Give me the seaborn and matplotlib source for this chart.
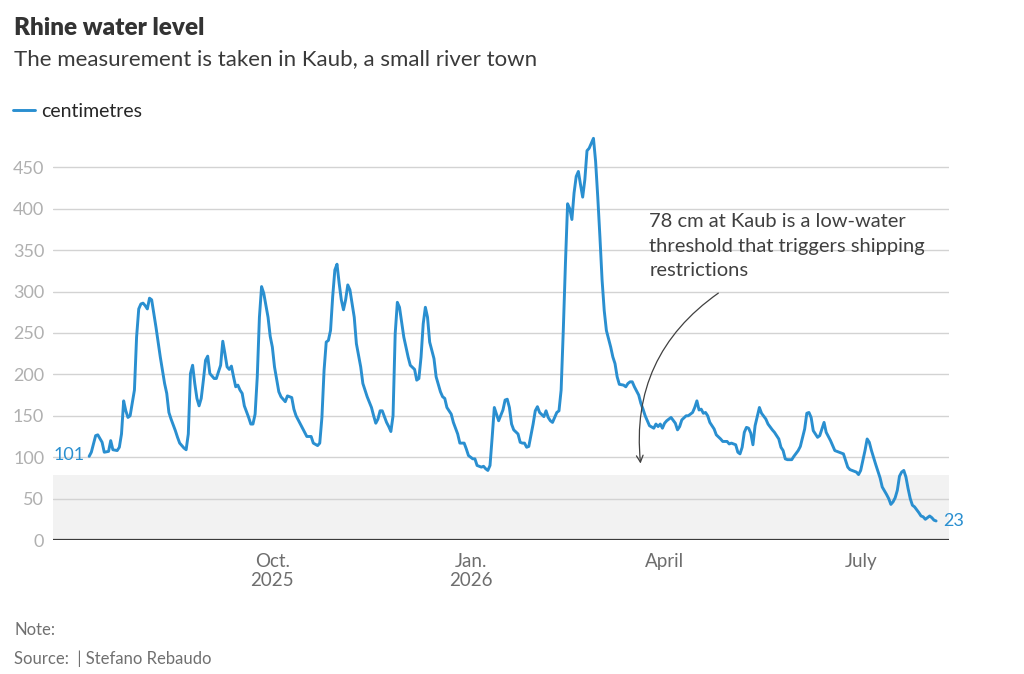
import pandas as pd
import matplotlib.pyplot as plt
import seaborn as sns

# daily readings at Kaub (cm)
dates = [
    "2025-07-08", "2025-07-09", "2025-07-11", "2025-07-12", "2025-07-14", "2025-07-15", "2025-07-17",
    "2025-07-18", "2025-07-19", "2025-07-21", "2025-07-22", "2025-07-23", "2025-07-24", "2025-07-25",
    "2025-07-26", "2025-07-27", "2025-07-29", "2025-07-30", "2025-07-31", "2025-08-01", "2025-08-02",
    "2025-08-03", "2025-08-04", "2025-08-05", "2025-08-06", "2025-08-08", "2025-08-10", "2025-08-12",
    "2025-08-13", "2025-08-14", "2025-08-15", "2025-08-17", "2025-08-18", "2025-08-19", "2025-08-21",
    "2025-08-22", "2025-08-23", "2025-08-24", "2025-08-25", "2025-08-26", "2025-08-27", "2025-08-28",
    "2025-08-29", "2025-08-30", "2025-08-31", "2025-09-01", "2025-09-02", "2025-09-04", "2025-09-05",
    "2025-09-07", "2025-09-08", "2025-09-09", "2025-09-10", "2025-09-11", "2025-09-12", "2025-09-13",
    "2025-09-14", "2025-09-15", "2025-09-16", "2025-09-17", "2025-09-18", "2025-09-20", "2025-09-21",
    "2025-09-22", "2025-09-23", "2025-09-24", "2025-09-25", "2025-09-26", "2025-09-27", "2025-09-29",
    "2025-09-30", "2025-10-01", "2025-10-02", "2025-10-04", "2025-10-05", "2025-10-07", "2025-10-08",
    "2025-10-10", "2025-10-11", "2025-10-12", "2025-10-14", "2025-10-16", "2025-10-17", "2025-10-19",
    "2025-10-20", "2025-10-22", "2025-10-23", "2025-10-24", "2025-10-25", "2025-10-26", "2025-10-27",
    "2025-10-28", "2025-10-29", "2025-10-30", "2025-10-31", "2025-11-01", "2025-11-02", "2025-11-03",
    "2025-11-04", "2025-11-05", "2025-11-06", "2025-11-08", "2025-11-09", "2025-11-11", "2025-11-12",
    "2025-11-14", "2025-11-16", "2025-11-17", "2025-11-18", "2025-11-19", "2025-11-20", "2025-11-21",
    "2025-11-23", "2025-11-24", "2025-11-25", "2025-11-26", "2025-11-27", "2025-11-28", "2025-11-29",
    "2025-12-01", "2025-12-02", "2025-12-03", "2025-12-04", "2025-12-06", "2025-12-07", "2025-12-08",
    "2025-12-09", "2025-12-10", "2025-12-11", "2025-12-12", "2025-12-13", "2025-12-15", "2025-12-16",
    "2025-12-18", "2025-12-19", "2025-12-20", "2025-12-21", "2025-12-23", "2025-12-24", "2025-12-26",
    "2025-12-27", "2025-12-29", "2025-12-30", "2025-12-31", "2026-01-02", "2026-01-03", "2026-01-04",
    "2026-01-06", "2026-01-07", "2026-01-08", "2026-01-09", "2026-01-10", "2026-01-11", "2026-01-12",
    "2026-01-13", "2026-01-14", "2026-01-16", "2026-01-17", "2026-01-18", "2026-01-19", "2026-01-20",
    "2026-01-21", "2026-01-23", "2026-01-24", "2026-01-25", "2026-01-26", "2026-01-27", "2026-01-28",
    "2026-01-30", "2026-01-31", "2026-02-01", "2026-02-02", "2026-02-04", "2026-02-05", "2026-02-06",
    "2026-02-07", "2026-02-08", "2026-02-09", "2026-02-10", "2026-02-11", "2026-02-12", "2026-02-13",
    "2026-02-14", "2026-02-15", "2026-02-16", "2026-02-17", "2026-02-18", "2026-02-19", "2026-02-20",
    "2026-02-21", "2026-02-22", "2026-02-23", "2026-02-24", "2026-02-25", "2026-02-26", "2026-02-27",
    "2026-02-28", "2026-03-01", "2026-03-02", "2026-03-03", "2026-03-04", "2026-03-05", "2026-03-07",
    "2026-03-08", "2026-03-09", "2026-03-10", "2026-03-11", "2026-03-13", "2026-03-14", "2026-03-15",
    "2026-03-16", "2026-03-17", "2026-03-18", "2026-03-20", "2026-03-21", "2026-03-22", "2026-03-23",
    "2026-03-24", "2026-03-25", "2026-03-27", "2026-03-28", "2026-03-29", "2026-03-30", "2026-03-31",
    "2026-04-01", "2026-04-02", "2026-04-04", "2026-04-06", "2026-04-07", "2026-04-08", "2026-04-09",
    "2026-04-11", "2026-04-12", "2026-04-14", "2026-04-15", "2026-04-16", "2026-04-17", "2026-04-18",
    "2026-04-19", "2026-04-20", "2026-04-21", "2026-04-22", "2026-04-24", "2026-04-25", "2026-04-27",
    "2026-04-28", "2026-04-30", "2026-05-01", "2026-05-02", "2026-05-04", "2026-05-05", "2026-05-06",
    "2026-05-07", "2026-05-08", "2026-05-09", "2026-05-10", "2026-05-11", "2026-05-12", "2026-05-13",
    "2026-05-14", "2026-05-15", "2026-05-16", "2026-05-18", "2026-05-19", "2026-05-21", "2026-05-22",
    "2026-05-24", "2026-05-25", "2026-05-26", "2026-05-27", "2026-05-28", "2026-05-30", "2026-05-31",
    "2026-06-02", "2026-06-03", "2026-06-05", "2026-06-06", "2026-06-07", "2026-06-08", "2026-06-09",
    "2026-06-11", "2026-06-12", "2026-06-13", "2026-06-14", "2026-06-15", "2026-06-17", "2026-06-18",
    "2026-06-19", "2026-06-20", "2026-06-22", "2026-06-23", "2026-06-24", "2026-06-25", "2026-06-26",
    "2026-06-28", "2026-06-29", "2026-06-30", "2026-07-01", "2026-07-02", "2026-07-03", "2026-07-04",
    "2026-07-05", "2026-07-06", "2026-07-08", "2026-07-10", "2026-07-11", "2026-07-13", "2026-07-14",
    "2026-07-15", "2026-07-16", "2026-07-17", "2026-07-18", "2026-07-19", "2026-07-20", "2026-07-21",
    "2026-07-22", "2026-07-23", "2026-07-24", "2026-07-25", "2026-07-26", "2026-07-28", "2026-07-29",
    "2026-07-30", "2026-07-31", "2026-08-01", "2026-08-02", "2026-08-03", "2026-08-04", "2026-08-05",
]
level = [
    101, 106, 126, 127, 118, 106, 107, 120, 109, 108, 112, 128, 168, 156,
    148, 150, 181, 245, 279, 285, 286, 283, 279, 292, 290, 257, 221, 189,
    177, 154, 146, 132, 124, 117, 111, 109, 128, 201, 211, 189, 171, 162,
    171, 193, 217, 222, 201, 195, 195, 211, 240, 225, 209, 206, 210, 197,
    185, 187, 181, 177, 162, 148, 140, 140, 152, 197, 269, 306, 298, 269,
    246, 233, 209, 179, 173, 167, 174, 172, 158, 150, 140, 130, 125, 125,
    117, 114, 117, 148, 205, 239, 241, 253, 294, 326, 333, 310, 290, 278,
    290, 308, 302, 269, 237, 209, 189, 173, 160, 150, 141, 146, 156, 156,
    142, 137, 131, 150, 249, 287, 281, 245, 233, 221, 211, 206, 193, 195,
    221, 261, 281, 269, 239, 219, 197, 179, 173, 171, 160, 152, 142, 128,
    117, 117, 110, 102, 98, 98, 90, 88, 89, 86, 84, 90, 124, 160,
    152, 144, 157, 169, 170, 160, 140, 133, 128, 118, 117, 117, 112, 113,
    140, 156, 161, 154, 149, 156, 148, 144, 142, 148, 154, 156, 181, 253,
    334, 406, 400, 387, 419, 439, 445, 429, 414, 435, 470, 473, 479, 485,
    457, 414, 366, 314, 277, 253, 233, 221, 213, 197, 188, 187, 185, 189,
    191, 191, 185, 175, 165, 158, 150, 144, 138, 135, 140, 137, 140, 135,
    141, 144, 148, 141, 133, 137, 145, 150, 150, 154, 160, 168, 157, 158,
    153, 154, 150, 142, 134, 127, 122, 119, 119, 116, 117, 115, 106, 104,
    112, 130, 136, 135, 129, 115, 138, 149, 160, 153, 146, 140, 133, 130,
    122, 112, 108, 98, 97, 97, 101, 108, 113, 134, 153, 154, 148, 132,
    124, 126, 134, 142, 130, 120, 114, 108, 107, 105, 104, 96, 88, 85,
    83, 82, 79, 84, 96, 108, 122, 118, 108, 91, 75, 64, 55, 50,
    43, 46, 51, 60, 77, 82, 84, 76, 62, 50, 42, 40, 33, 29,
    28, 25, 27, 29, 27, 24, 23,
]

threshold = 78
tick_dates = ["2025-10-01", "2026-01-01", "2026-04-01", "2026-07-01"]
tick_labels = ["Oct.\n2025", "Jan.\n2026", "April", "July"]

BLUE = "#2a8fd0"

df = pd.DataFrame({"date": pd.to_datetime(dates), "level": level})

sns.set_theme(style="white")
plt.rcParams["font.family"] = ["Lato", "DejaVu Sans"]

fig = plt.figure(figsize=(10.24, 6.74), dpi=100)
ax = fig.add_axes([0.0513, 0.1988, 0.8755, 0.6144])

# low-water zone below the threshold
ax.axhspan(0, threshold, color="#f2f2f2", zorder=0, lw=0)

sns.lineplot(data=df, x="date", y="level", color=BLUE, linewidth=2.1,
             ax=ax, label="centimetres", zorder=3)

ax.set_xlim(pd.Timestamp("2025-06-21"), pd.Timestamp("2026-08-11"))
ax.set_ylim(0, 500)
ax.set_yticks(range(0, 451, 50))
ax.grid(axis="y", color="#d3d3d3", linewidth=1.0)
ax.grid(axis="x", visible=False)
ax.set_axisbelow(True)
ax.axhline(0, color="#3a3a3a", linewidth=1.6, zorder=4)
for s in ax.spines.values():
    s.set_visible(False)

ax.set_xticks(pd.to_datetime(tick_dates))
ax.set_xticklabels(tick_labels)
ax.tick_params(axis="x", length=0, pad=9, labelsize=13.5, labelcolor="#6e6e6e")
ax.tick_params(axis="y", length=0, pad=6, labelsize=13, labelcolor="#b0b0b0")
ax.set_xlabel("")
ax.set_ylabel("")

# first / last value labels
ax.annotate(str(level[0]), xy=(df["date"].iloc[0], level[0]), xytext=(-3, 1),
            textcoords="offset points", ha="right", va="center",
            color=BLUE, fontsize=13)
ax.annotate(str(level[-1]), xy=(df["date"].iloc[-1], level[-1]), xytext=(5, 0),
            textcoords="offset points", ha="left", va="center",
            color=BLUE, fontsize=13)

# note about the threshold
ax.text(pd.Timestamp("2026-03-25"), 395,
        "78 cm at Kaub is a low-water\nthreshold that triggers shipping\nrestrictions",
        ha="left", va="top", fontsize=14.5, color="#404040", linespacing=1.55, zorder=5)
ax.annotate("", xy=(pd.Timestamp("2026-03-21"), 89), xytext=(pd.Timestamp("2026-04-27"), 300),
            arrowprops=dict(arrowstyle="->", color="#404040", lw=0.9,
                            connectionstyle="arc3,rad=0.3"), zorder=5)

ax.legend_.remove()
fig.legend(loc="center left", bbox_to_anchor=(-0.004, 0.835), frameon=False,
           handlelength=1.1, handletextpad=0.35, prop={"size": 14})

fig.text(0.0137, 0.959, "Rhine water level", fontsize=17.5, fontweight="heavy",
         color="#333333", va="center")
fig.text(0.0137, 0.912, "The measurement is taken in Kaub, a small river town",
         fontsize=16, color="#3a3a3a", va="center")
fig.text(0.0137, 0.065, "Note:", fontsize=12, color="#707070", va="center")
fig.text(0.0137, 0.022, "Source:  | Stefano Rebaudo", fontsize=12,
         color="#707070", va="center")

fig.savefig("out.png", dpi=100)
